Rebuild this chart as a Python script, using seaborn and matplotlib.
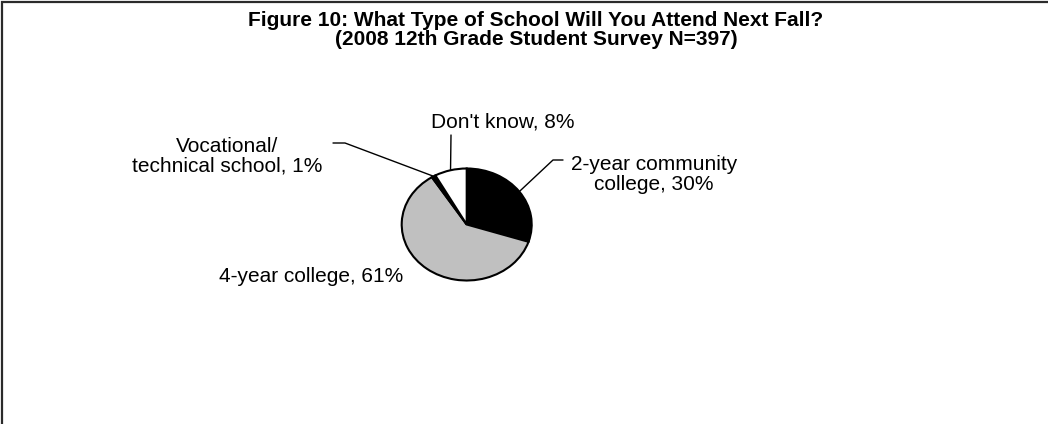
import matplotlib
matplotlib.use("Agg")
import matplotlib.pyplot as plt
from matplotlib.lines import Line2D
from matplotlib.patches import Rectangle
import numpy as np
import seaborn as sns

# Survey responses (percent of respondents)
categories = ["2-year community\ncollege", "4-year college",
              "Vocational/\ntechnical school", "Don't know"]
shares = [30, 61, 1, 8]
slice_colors = ["#000000", "#c0c0c0", "#000000", "#ffffff"]

title_lines = ["Figure 10: What Type of School Will You Attend Next Fall?",
               "(2008 12th Grade Student Survey N=397)"]

sns.set_theme(style="white")
plt.rcParams["font.family"] = ["Liberation Sans", "DejaVu Sans"]

W, H = 1048, 424
fig = plt.figure(figsize=(W / 100, H / 100), dpi=100)
fig.patch.set_facecolor("white")


def fpos(x, y):
    """Pixel position measured from the top-left corner -> figure fraction."""
    return x / W, 1 - y / H


# chart-area border (only left and top edges fall inside the canvas)
fig.patches.append(Rectangle(fpos(2, 460), (W + 40) / W, 458 / H,
                             transform=fig.transFigure, fill=False,
                             edgecolor="#2b2b2b", linewidth=1.6))

# title
fig.text(*fpos(536, 26), title_lines[0], ha="center", va="baseline",
         fontsize=15, fontweight="bold", color="black")
fig.text(*fpos(536, 45), title_lines[1], ha="center", va="baseline",
         fontsize=15, fontweight="bold", color="black")

# pie axes: slightly wider than tall
cx, cy, rx, ry = 466.7, 224.5, 65, 56
ax = fig.add_axes([(cx - rx) / W, 1 - (cy + ry) / H, 2 * rx / W, 2 * ry / H])
wedges, _ = ax.pie(shares, colors=slice_colors, startangle=90,
                   counterclock=False, radius=1,
                   wedgeprops=dict(edgecolor="black", linewidth=1.5))
ax.set_aspect("auto")
ax.set_xlim(-1, 1)
ax.set_ylim(-1, 1)
ax.axis("off")

to_fig = ax.transData + fig.transFigure.inverted()


def edge_point(w):
    ang = np.deg2rad((w.theta1 + w.theta2) / 2)
    return to_fig.transform((np.cos(ang), np.sin(ang)))


def leader(w, *pts):
    x0, y0 = edge_point(w)
    xs = [x0] + [fpos(*p)[0] for p in pts]
    ys = [y0] + [fpos(*p)[1] for p in pts]
    fig.lines.append(Line2D(xs, ys, transform=fig.transFigure,
                            color="black", linewidth=1.0))


labels = [f"{c}, {v}%" for c, v in zip(categories, shares)]
lab_kw = dict(fontsize=15, color="black", linespacing=1.05)

# 2-year community college (baseline of the last line)
leader(wedges[0], (553, 160), (563, 160))
fig.text(*fpos(654, 190), labels[0], ha="center", va="baseline",
         multialignment="center", **lab_kw)
# 4-year college
fig.text(*fpos(311, 282), labels[1], ha="center", va="baseline", **lab_kw)
# vocational / technical
leader(wedges[2], (345, 143), (333, 143))
fig.text(*fpos(227, 172), labels[2], ha="center", va="baseline",
         multialignment="center", **lab_kw)
# don't know
leader(wedges[3], (451, 135))
fig.text(*fpos(503, 127), labels[3], ha="center", va="baseline", **lab_kw)

fig.savefig("out.png", dpi=100, facecolor="white")
